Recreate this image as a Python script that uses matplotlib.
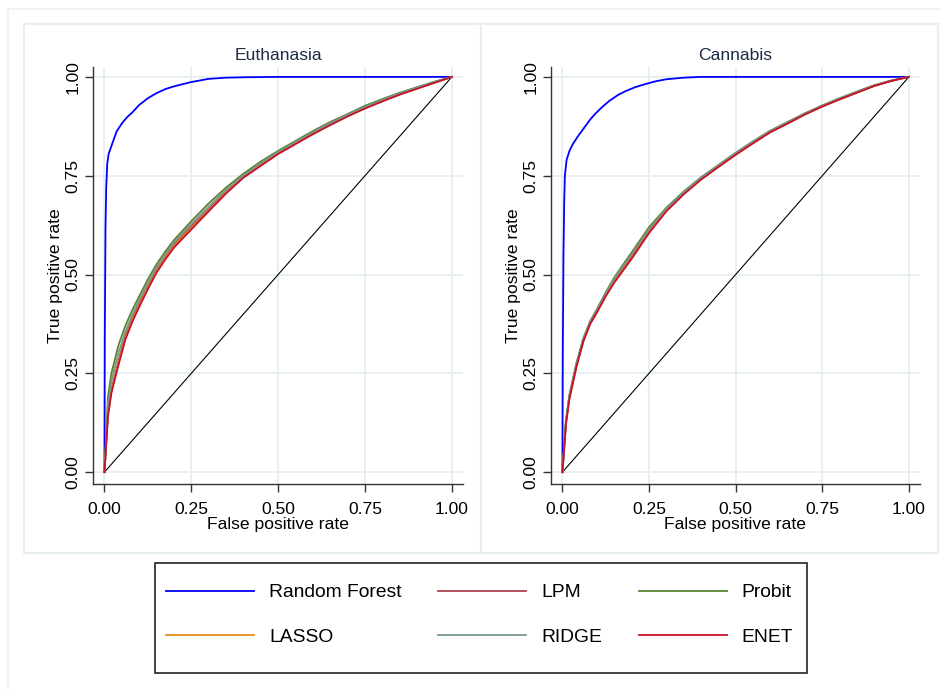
import matplotlib
matplotlib.use("Agg")
import matplotlib.pyplot as plt
from matplotlib.patches import Rectangle

plt.rcParams['font.family'] = ['Liberation Sans', 'DejaVu Sans']

# Courbes ROC
panels = ["Euthanasia", "Cannabis"]
models = ["Random Forest", "LPM", "Probit", "LASSO", "RIDGE", "ENET"]
colors = ["#0000ff", "#a8434c", "#5a8232", "#e8891c", "#7b978c", "#c8102e"]

fpr_grid = [0, 0.01, 0.02, 0.04, 0.06, 0.08, 0.10, 0.125, 0.15, 0.175, 0.2, 0.25,
            0.3, 0.35, 0.4, 0.45, 0.5, 0.55, 0.6, 0.65, 0.7, 0.75, 0.8, 0.85, 0.9, 0.95, 1.0]

# Euthanasia
eu_rf_fpr = [0, 0.001, 0.003, 0.005, 0.008, 0.012, 0.02, 0.035, 0.05, 0.065, 0.08, 0.1, 0.125,
             0.15, 0.175, 0.2, 0.25, 0.3, 0.35, 0.4, 0.5, 0.6, 0.7, 0.8, 0.9, 1.0]
eu_rf_tpr = [0, 0.35, 0.62, 0.72, 0.78, 0.805, 0.825, 0.862, 0.882, 0.898, 0.91, 0.929, 0.946,
             0.959, 0.969, 0.976, 0.987, 0.995, 0.998, 0.999, 1, 1, 1, 1, 1, 1]
eu_lpm = [0, 0.15, 0.21, 0.28, 0.345, 0.39, 0.427, 0.473, 0.513, 0.547, 0.576, 0.622,
          0.665, 0.71, 0.749, 0.779, 0.808, 0.833, 0.858, 0.881, 0.902, 0.922, 0.94, 0.957, 0.972, 0.986, 1]
eu_probit = [0, 0.19, 0.25, 0.32, 0.37, 0.41, 0.445, 0.488, 0.526, 0.558, 0.587, 0.635,
             0.68, 0.72, 0.755, 0.786, 0.813, 0.838, 0.863, 0.886, 0.906, 0.927, 0.944, 0.96, 0.974, 0.988, 1]
eu_lasso = [0, 0.145, 0.205, 0.275, 0.34, 0.385, 0.422, 0.468, 0.509, 0.543, 0.572, 0.618,
            0.662, 0.707, 0.747, 0.777, 0.806, 0.831, 0.856, 0.879, 0.901, 0.921, 0.939, 0.956, 0.971, 0.985, 1]
eu_ridge = [0, 0.17, 0.23, 0.3, 0.355, 0.398, 0.435, 0.478, 0.518, 0.551, 0.581, 0.628,
            0.672, 0.714, 0.751, 0.782, 0.81, 0.835, 0.86, 0.883, 0.904, 0.924, 0.942, 0.958, 0.973, 0.987, 1]
eu_enet = [0, 0.14, 0.2, 0.27, 0.335, 0.38, 0.418, 0.463, 0.505, 0.538, 0.568, 0.614,
           0.66, 0.705, 0.745, 0.775, 0.805, 0.83, 0.855, 0.878, 0.9, 0.92, 0.938, 0.955, 0.97, 0.985, 1]

# Cannabis
ca_rf_fpr = [0, 0.001, 0.003, 0.005, 0.007, 0.012, 0.02, 0.03, 0.045, 0.065, 0.08, 0.095, 0.115,
             0.135, 0.16, 0.18, 0.21, 0.24, 0.27, 0.3, 0.35, 0.4, 0.5, 0.6, 0.8, 1.0]
ca_rf_tpr = [0, 0.3, 0.55, 0.68, 0.75, 0.79, 0.812, 0.83, 0.85, 0.874, 0.892, 0.907, 0.924,
             0.939, 0.954, 0.963, 0.974, 0.982, 0.989, 0.994, 0.998, 1, 1, 1, 1, 1]
ca_lpm = [0, 0.125, 0.19, 0.268, 0.333, 0.378, 0.408, 0.449, 0.485, 0.516, 0.546, 0.611,
          0.663, 0.706, 0.743, 0.774, 0.805, 0.834, 0.862, 0.884, 0.906, 0.926, 0.944, 0.961, 0.978, 0.99, 1]
ca_probit = [0, 0.13, 0.195, 0.275, 0.338, 0.382, 0.413, 0.455, 0.493, 0.525, 0.556, 0.62,
             0.669, 0.71, 0.746, 0.777, 0.808, 0.837, 0.864, 0.886, 0.908, 0.928, 0.946, 0.963, 0.979, 0.991, 1]
ca_lasso = [0, 0.12, 0.185, 0.265, 0.33, 0.375, 0.405, 0.446, 0.482, 0.512, 0.542, 0.607,
            0.661, 0.704, 0.741, 0.772, 0.803, 0.832, 0.86, 0.882, 0.905, 0.925, 0.943, 0.96, 0.977, 0.99, 1]
ca_ridge = [0, 0.128, 0.193, 0.272, 0.336, 0.38, 0.411, 0.452, 0.49, 0.521, 0.551, 0.615,
            0.666, 0.708, 0.745, 0.776, 0.807, 0.836, 0.863, 0.885, 0.907, 0.927, 0.945, 0.962, 0.978, 0.991, 1]
ca_enet = [0, 0.12, 0.185, 0.265, 0.33, 0.375, 0.405, 0.445, 0.48, 0.51, 0.54, 0.605,
           0.66, 0.703, 0.74, 0.772, 0.803, 0.832, 0.86, 0.882, 0.905, 0.925, 0.943, 0.96, 0.977, 0.99, 1]

ticks = [0, 0.25, 0.5, 0.75, 1.0]
tick_labels = ["0.00", "0.25", "0.50", "0.75", "1.00"]

data = {
    "Euthanasia": [(eu_rf_fpr, eu_rf_tpr), (fpr_grid, eu_lpm), (fpr_grid, eu_probit),
                   (fpr_grid, eu_lasso), (fpr_grid, eu_ridge), (fpr_grid, eu_enet)],
    "Cannabis": [(ca_rf_fpr, ca_rf_tpr), (fpr_grid, ca_lpm), (fpr_grid, ca_probit),
                 (fpr_grid, ca_lasso), (fpr_grid, ca_ridge), (fpr_grid, ca_enet)],
}

W, H = 941, 690
fig = plt.figure(figsize=(W / 100, H / 100), dpi=100)
fig.patch.set_facecolor("white")

def px_rect(x0, y0, x1, y1, **kw):
    # rectangle en pixels (origine en haut a gauche)
    r = Rectangle((x0 / W, 1 - y1 / H), (x1 - x0) / W, (y1 - y0) / H,
                  transform=fig.transFigure, fill=False, **kw)
    fig.add_artist(r)

# Cadres style Stata
px_rect(8, 9, 950, 700, edgecolor="#eef3f3", lw=1.5)
px_rect(24, 24, 481, 553, edgecolor="#e8eff0", lw=1.5)
px_rect(481, 24, 938, 553, edgecolor="#e8eff0", lw=1.5)

axes_px = [(93, 67, 463, 484), (551, 67, 920, 484)]
handles = []
for (x0, y0, x1, y1), name in zip(axes_px, panels):
    ax = fig.add_axes([x0 / W, 1 - y1 / H, (x1 - x0) / W, (y1 - y0) / H])
    ax.set_facecolor("white")
    ax.set_xlim(-0.033, 1.032)
    ax.set_ylim(-0.030, 1.025)
    ax.set_xticks(ticks)
    ax.set_xticklabels(tick_labels)
    ax.set_yticks(ticks)
    ax.set_yticklabels(tick_labels, rotation=90, va="center")
    ax.grid(True, color="#e6eef0", lw=1.3)
    ax.set_axisbelow(True)
    for s in ["top", "right"]:
        ax.spines[s].set_visible(False)
    for s in ["left", "bottom"]:
        ax.spines[s].set_color("#333333")
        ax.spines[s].set_linewidth(1.0)
    ax.tick_params(length=6, width=1.0, color="#333333", labelsize=12.6, pad=3)
    ax.tick_params(axis="x", pad=7)
    ax.set_title(name, fontsize=12.6, color="#1e2b45", pad=5)
    ax.set_xlabel("False positive rate", fontsize=12.6, labelpad=0)
    ax.set_ylabel("True positive rate", fontsize=12.6, labelpad=2)

    ax.plot([0, 1], [0, 1], color="black", lw=0.8)
    hs = []
    for (fx, ty), m, c in zip(data[name], models, colors):
        h, = ax.plot(fx, ty, color=c, lw=1.3, label=m)
        hs.append(h)
    handles = hs

# Legende
px_rect(155, 563, 807, 673, edgecolor="#222222", lw=1.2)
order = [0, 3, 1, 4, 2, 5]
fig.legend([handles[i] for i in order], [models[i] for i in order], ncol=3,
           loc="upper left", bbox_to_anchor=(162 / W, 1 - 580 / H), frameon=False,
           fontsize=13.9, handlelength=4.56, handletextpad=0.78, columnspacing=1.9,
           labelspacing=1.38, borderpad=0.2, borderaxespad=0)

fig.savefig("out.png", dpi=100)
